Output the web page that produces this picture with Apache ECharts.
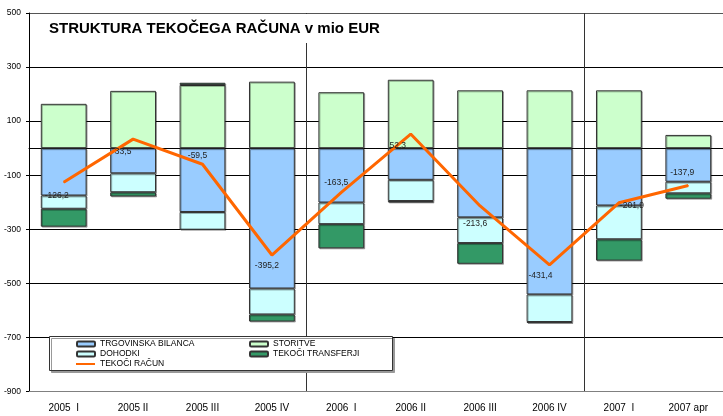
<!DOCTYPE html>
<html>
<head>
<meta charset="utf-8">
<title>Struktura tekočega računa</title>
<script src="https://cdn.jsdelivr.net/npm/echarts/dist/echarts.min.js"></script>
<style>
  html, body { margin: 0; padding: 0; background: #fff; }
  #chart { width: 723px; height: 416px; }
</style>
</head>
<body>
<div id="chart"></div>
<script>
// kvartali / meseci
var categories = ['2005  I', '2005 II', '2005 III', '2005 IV', '2006  I', '2006 II', '2006 III', '2006 IV', '2007  I', '2007 apr'];

// mio EUR (odčitano s slike)
var trgovinskaBilanca = [-175, -93, -236, -519, -201, -117, -256, -541, -212, -124];
var storitve = [164, 212, 234, 246, 207, 253, 214, 214, 214, 49];
var dohodki = [-49, -70, -65.5, -96, -80, -78.5, -95, -102, -125, -43];
var tekociTransferji = [-66.2, -15.5, 8, -26.2, -89.5, -5.2, -76.6, -2.4, -78.9, -19.9];
var tekociRacun = [-126.2, 33.5, -59.5, -395.2, -163.5, 52.3, -213.6, -431.4, -201.9, -137.9];

var yTicks = [-900, -700, -500, -300, -100, 100, 300, 500];

// zamiki oznak glede na točko (kot v izvirniku)
var labelOffsets = [[-7, 13], [-10, 13], [-5, -9], [-5, 11], [-5, -10], [-13, 12], [-5, 18], [-9, 11], [13, 3], [-6, -13]];

var fontFamily = '"Liberation Sans", Arial, sans-serif';

function init() {
    var chart = echarts.init(document.getElementById('chart'));

    var barBase = {
        type: 'bar',
        stack: 'racun',
        barWidth: '66%',
        xAxisIndex: 0
    };
    function barStyle(color) {
        return {
            color: color,
            borderColor: '#333',
            borderWidth: 1,
            shadowColor: 'rgba(0,0,0,0.3)',
            shadowOffsetX: 1,
            shadowOffsetY: 1
        };
    }

    var lineData = tekociRacun.map(function (v, i) {
        return {
            value: v,
            label: { offset: labelOffsets[i] }
        };
    });

    var legendCommon = {
        itemWidth: 18,
        itemHeight: 5,
        itemGap: 10,
        padding: 0,
        z: 60,
        itemStyle: { shadowColor: 'rgba(0,0,0,0)', shadowOffsetX: 0, shadowOffsetY: 0 },
        textStyle: { fontFamily: fontFamily, fontSize: 8.5, color: '#000', width: 139, lineHeight: 10 }
    };

    var option = {
        animation: false,
        title: {
            text: 'STRUKTURA TEKOČEGA RAČUNA v mio EUR',
            left: 40,
            top: 14,
            padding: [7, 9],
            backgroundColor: '#fff',
            textStyle: { fontFamily: fontFamily, fontSize: 15, fontWeight: 'bold', color: '#000' }
        },
        legend: [
            Object.assign({}, legendCommon, { left: 76, top: 339, data: ['TRGOVINSKA BILANCA', 'STORITVE'] }),
            Object.assign({}, legendCommon, { left: 76, top: 349, data: ['DOHODKI', 'TEKOČI TRANSFERJI'] }),
            Object.assign({}, legendCommon, {
                left: 75, top: 359, itemWidth: 19, data: ['TEKOČI RAČUN'],
                itemStyle: { opacity: 0 }
            })
        ],
        graphic: [{
            type: 'rect',
            z: 50,
            shape: { x: 49.5, y: 336.5, width: 343, height: 34 },
            style: { fill: '#fff', stroke: '#333', lineWidth: 1, shadowColor: '#999', shadowOffsetX: 2, shadowOffsetY: 2 }
        }],
        grid: { left: 29, top: 13, width: 700, height: 378.5 },
        xAxis: [{
            type: 'category',
            data: categories,
            position: 'bottom',
            axisLine: { onZero: false, lineStyle: { color: '#808080' } },
            axisTick: { show: false },
            axisLabel: { fontFamily: fontFamily, fontSize: 10, color: '#000', margin: 12 },
            splitLine: {
                show: true,
                interval: function (index) { return index === 4 || index === 8; },
                lineStyle: { color: '#333', width: 1 }
            }
        }, {
            type: 'category',
            data: categories,
            position: 'bottom',
            axisLine: { onZero: true, lineStyle: { color: '#000' } },
            axisTick: { show: false },
            axisLabel: { show: false },
            splitLine: { show: false }
        }],
        yAxis: {
            type: 'value',
            min: yTicks[0],
            max: yTicks[yTicks.length - 1],
            interval: 200,
            axisLine: { show: true, lineStyle: { color: '#000' } },
            axisTick: { show: true, length: 3, lineStyle: { color: '#000' } },
            axisLabel: { fontFamily: fontFamily, fontSize: 8.5, color: '#000', margin: 8 },
            splitLine: {
                lineStyle: { color: ['#808080', '#000', '#000', '#000', '#000', '#000', '#000', '#555'], width: 1 }
            }
        },
        series: [
            Object.assign({}, barBase, { name: 'TRGOVINSKA BILANCA', data: trgovinskaBilanca, itemStyle: barStyle('#99CCFF') }),
            Object.assign({}, barBase, { name: 'STORITVE', data: storitve, itemStyle: barStyle('#CCFFCC') }),
            Object.assign({}, barBase, { name: 'DOHODKI', data: dohodki, itemStyle: barStyle('#CCFFFF') }),
            Object.assign({}, barBase, { name: 'TEKOČI TRANSFERJI', data: tekociTransferji, itemStyle: barStyle('#339966') }),
            {
                name: 'TEKOČI RAČUN',
                type: 'line',
                xAxisIndex: 0,
                data: lineData,
                symbol: 'circle',
                symbolSize: 1,
                lineStyle: { color: '#FF6600', width: 3 },
                itemStyle: { color: '#FF6600' },
                label: {
                    show: true,
                    position: 'inside',
                    fontFamily: fontFamily,
                    fontSize: 8.5,
                    color: '#222',
                    formatter: function (p) { return p.value.toFixed(1).replace('.', ','); }
                },
                z: 5
            }
        ]
    };

    chart.setOption(option);
    window.addEventListener('resize', function () {
        chart.resize();
    });
}

init();
</script>
</body>
</html>
